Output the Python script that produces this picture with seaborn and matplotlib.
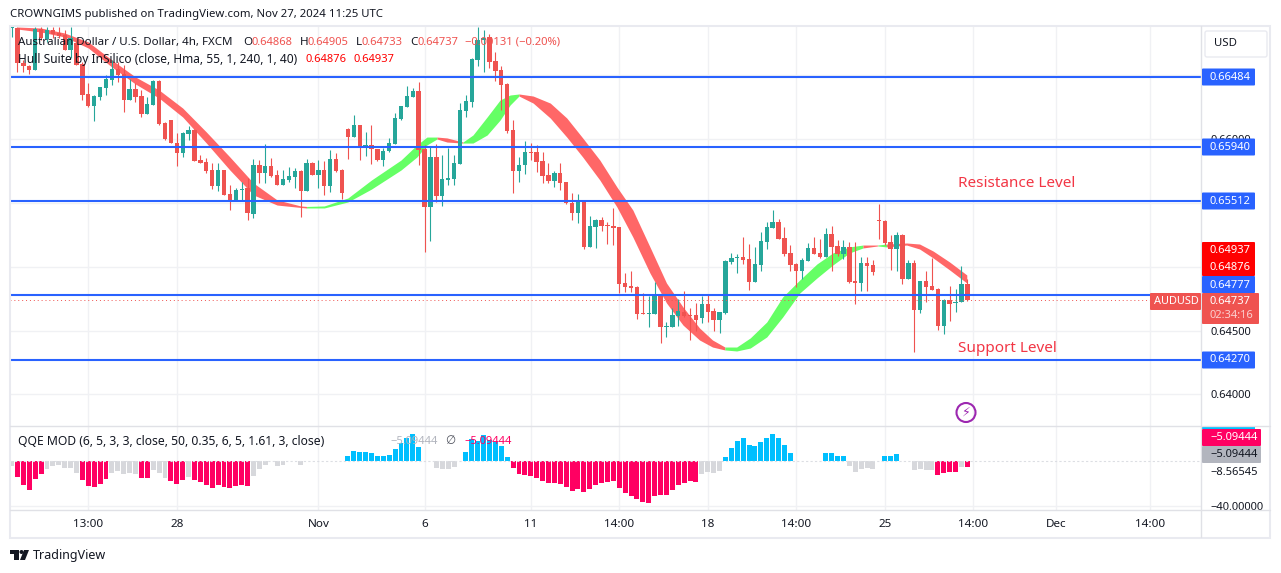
import numpy as np
import seaborn as sns
import matplotlib.pyplot as plt
from matplotlib.patches import Rectangle, FancyBboxPatch, Circle, Polygon

W, H = 1281, 573

# 4h candles, prices in 1e-5 units, first one is the cut off bar at the left edge
opens = [66867, 66867, 66593, 66570, 66538, 66859, 66781, 66851, 66828, 66812,
         66695, 66750, 66585, 66351, 66257, 66327, 66398, 66460, 66546, 66507,
         66304, 66390, 66335, 66194, 66265, 66452, 66124, 66147, 65968, 65890,
         66038, 66069, 65834, 65819, 65756, 65631, 65756, 65569, 65514, 65596,
         65615, 65412, 65795, 65733, 65787, 65717, 65639, 65678, 65701, 65748,
         65592, 65811, 65717, 65756, 65631, 65842, 65756, 66077, 66015, 66108,
         65936, 65952, 65921, 65834, 65905, 65960, 66155, 66249, 66327, 66374,
         65921, 65467, 65858, 65553, 65678, 65686, 65803, 66218, 66288, 66617,
         66773, 66797, 66609, 66538, 66429, 66069, 65748, 65795, 65897, 65897,
         65827, 65717, 65670, 65733, 65662, 65498, 65420, 65506, 65154, 65310,
         65365, 65326, 65318, 65310, 64872, 64849, 64841, 64638, 64630, 64630,
         64778, 64528, 64528, 64614, 64645, 64622, 64622, 64598, 64708, 64653,
         64583, 64637, 65036, 65068, 65076, 65060, 64880, 65013, 65193, 65302,
         65349, 65225, 65107, 65021, 64966, 65044, 65146, 65107, 65076, 65255,
         65162, 65099, 65154, 64888, 64872, 65029, 65013, 65365, 65357, 65193,
         65138, 65248, 64904, 65029, 64661, 64888, 64849, 64825, 64536, 64739,
         64716, 64724, 64868]
highs = [66875, 66875, 66617, 66578, 66875, 66875, 66875, 66875, 66875, 66851,
         66875, 66773, 66601, 66437, 66343, 66406, 66499, 66617, 66601, 66578,
         66468, 66437, 66382, 66327, 66460, 66460, 66132, 66147, 66046, 66054,
         66100, 66077, 65874, 65850, 65811, 65811, 65756, 65639, 65615, 65662,
         65694, 65842, 65834, 65959, 65850, 65756, 65756, 65780, 65772, 65756,
         65842, 65819, 65834, 65827, 65913, 65889, 65764, 66085, 66186, 66108,
         66054, 66108, 65921, 65928, 66007, 66202, 66257, 66413, 66398, 66445,
         65952, 65936, 65959, 65874, 65928, 65874, 66280, 66343, 66632, 66875,
         66851, 66820, 66679, 66570, 66437, 66147, 65858, 65983, 65968, 65952,
         65897, 65811, 65748, 65811, 65662, 65576, 65569, 65514, 65396, 65373,
         65388, 65349, 65459, 65310, 64950, 64966, 64849, 64794, 64770, 64880,
         64786, 64567, 64676, 64747, 64810, 64676, 64716, 64770, 64786, 64676,
         64645, 65052, 65107, 65099, 65232, 65177, 65154, 65271, 65349, 65443,
         65373, 65310, 65170, 65029, 65068, 65185, 65232, 65217, 65303, 65318,
         65209, 65209, 65193, 65193, 65076, 65076, 65052, 65490, 65365, 65248,
         65271, 65256, 65052, 65052, 64888, 64966, 65068, 64833, 64747, 64849,
         64825, 65005, 64905]
lows = [66797, 66523, 66523, 66507, 66538, 66773, 66757, 66789, 66789, 66695,
        66632, 66578, 66304, 66249, 66140, 66304, 66343, 66421, 66445, 66210,
        66304, 66288, 66171, 66194, 66265, 66108, 65991, 65968, 65788, 65858,
        65991, 65827, 65811, 65733, 65608, 65592, 65561, 65443, 65514, 65514,
        65365, 65381, 65654, 65654, 65701, 65639, 65639, 65662, 65615, 65388,
        65592, 65717, 65615, 65561, 65584, 65740, 65529, 65842, 66015, 65834,
        65866, 65803, 65827, 65788, 65897, 65960, 66147, 66249, 66327, 65795,
        65115, 65201, 65506, 65475, 65639, 65639, 65803, 66171, 66249, 66570,
        66523, 66554, 66452, 66225, 66046, 65577, 65662, 65725, 65834, 65740,
        65655, 65655, 65623, 65600, 65490, 65365, 65342, 65138, 65154, 65146,
        65279, 65178, 65170, 64794, 64802, 64802, 64590, 64630, 64528, 64630,
        64403, 64450, 64528, 64536, 64606, 64426, 64497, 64559, 64567, 64497,
        64481, 64630, 65021, 64950, 65021, 64817, 64880, 64966, 65138, 65302,
        65217, 65083, 64966, 64841, 64903, 65044, 65099, 65068, 65076, 64966,
        65083, 65060, 64872, 64708, 64810, 64810, 64935, 65217, 65170, 64974,
        64966, 64864, 64904, 64332, 64638, 64724, 64817, 64504, 64473, 64575,
        64645, 64724, 64733]
closes = [66875, 66593, 66570, 66538, 66859, 66789, 66851, 66820, 66804, 66695,
          66789, 66578, 66343, 66257, 66335, 66406, 66468, 66546, 66499, 66304,
          66390, 66327, 66194, 66272, 66452, 66116, 65999, 65968, 65890, 66046,
          66069, 65827, 65811, 65748, 65631, 65756, 65561, 65514, 65600, 65608,
          65420, 65795, 65733, 65787, 65709, 65639, 65686, 65709, 65748, 65592,
          65811, 65717, 65756, 65631, 65842, 65748, 65577, 66015, 66108, 65936,
          65952, 65921, 65834, 65905, 65968, 66163, 66257, 66335, 66374, 65913,
          65467, 65858, 65553, 65686, 65694, 65811, 66225, 66296, 66624, 66773,
          66789, 66601, 66531, 66421, 66061, 65748, 65795, 65897, 65889, 65819,
          65709, 65670, 65733, 65655, 65498, 65420, 65506, 65154, 65318, 65365,
          65318, 65318, 65303, 64864, 64841, 64833, 64630, 64630, 64638, 64778,
          64528, 64536, 64622, 64653, 64614, 64614, 64583, 64708, 64645, 64583,
          64645, 65044, 65068, 65076, 65052, 64880, 65021, 65201, 65310, 65349,
          65217, 65099, 65013, 64966, 65052, 65146, 65099, 65076, 65255, 65154,
          65099, 65154, 64880, 64872, 65029, 65005, 64958, 65357, 65185, 65138,
          65248, 64904, 65029, 64661, 64888, 64841, 64817, 64536, 64739, 64708,
          64724, 64864, 64737]

# QQE histogram, one value per candle
qqe = [-4.1, -13.9, -21.3, -25.8, -16, -11.6, -7.1, -4.7, -3.6, -6.2,
       -6.2, -10.4, -16.9, -22.2, -23.1, -20.4, -16, -10.7, -8.6, -11.6,
       -10.7, -11.6, -15.1, -15.1, -8, -10.4, -15.1, -17.8, -20.4, -16.9,
       -14.2, -16.9, -18.7, -21.3, -24, -21.3, -23.1, -24, -22.2, -21.3,
       -22.2, -13.3, -7.1, -3.6, 0, -4.1, -3.6, 0, 0, -3.6,
       0, 0, 0, 0, 0, 0, 0, 4.4, 8.9, 8,
       8, 7.1, 4.4, 4.4, 5.3, 10.7, 16, 20.4, 24, 12.4,
       0, 0, -6.2, -7.1, -7.1, -5.3, 0, 8, 19.6, 18,
       23, 19, 17, 13, 3.6, -6.2, -11.6, -12.4, -13.3, -15.1,
       -17.8, -19.6, -19.6, -20.4, -23.1, -26.7, -25, -27.6, -25, -21.3,
       -19.6, -18.7, -17.8, -24, -28.4, -31, -33.8, -36.4, -37.3, -31,
       -30.2, -30.2, -25.8, -21.3, -19.6, -17.8, -18.7, -11.6, -9.8, -10.7,
       -8.9, 3.6, 11.6, 17.8, 20.4, 14.2, 13.3, 16.9, 20.4, 24,
       20.4, 14.2, 7.1, 0, 0, 0, 0, 0, 7.1, 7.1,
       4.4, 4.4, -4.4, -9.8, -7.1, -6.2, -7.1, 0, 4.4, 4.4,
       6.2, 0, 0, -8, -7.1, -8, -8, -12.4, -10.7, -9.8,
       -9.8, -5.3, -5.3]
grey_bars = [-1, 5, 6, 7, 8, 9, 10, 16, 17, 18, 19, 20, 23, 24, 25, 29, 40, 41, 42, 44, 45, 48,
             71, 72, 73, 74, 116, 117, 118, 119, 141, 142, 143, 144, 145, 152, 153, 154, 155, 160]

# Hull Suite band, read at a few candles, one list per colour run
hull_colors = ['red', 'green', 'red', 'green', 'red', 'green', 'red', 'green', 'red']
hull_x = [[0, 4, 8, 12, 16, 20, 24, 28, 32, 36, 40, 44, 48, 49],
          [49, 52, 56, 60, 65, 67.7, 69.4, 71.1],
          [71.1, 72.8, 75.5],
          [75.5, 77.2, 79.6, 81.8, 83.5, 85],
          [85, 87.4, 90.3, 93.1, 95.8, 98.7, 101.6, 104.3, 107.2, 110, 112.8, 115.6, 117.8, 119.9],
          [119.9, 121.9, 124.2, 127, 129.7, 132.6, 135.5, 138.2, 141, 143.3],
          [143.3, 145.8],
          [145.8, 147.3],
          [147.3, 150.7, 152.9, 155.2, 158, 160.9]]
hull_top = [[66875, 66867, 66828, 66758, 66617, 66484, 66382, 66241, 66054, 65858, 65654, 65522, 65475, 65471],
            [65471, 65475, 65537, 65678, 65834, 65952, 66014, 66014],
            [66014, 66007, 65975],
            [65975, 66030, 66171, 66304, 66343, 66351],
            [66351, 66335, 66280, 66163, 66007, 65834, 65623, 65443, 65154, 64872, 64684, 64520, 64426, 64371],
            [64371, 64371, 64442, 64567, 64763, 64896, 65021, 65107, 65154, 65169],
            [65169, 65169],
            [65169, 65177],
            [65177, 65185, 65177, 65122, 65036, 64935]]
hull_bot = [[66859, 66836, 66797, 66711, 66562, 66429, 66319, 66171, 65968, 65756, 65561, 65482, 65463, 65459],
            [65459, 65459, 65506, 65607, 65756, 65858, 65952, 65999],
            [65999, 65975, 65967],
            [65967, 65967, 66030, 66147, 66265, 66335],
            [66335, 66280, 66163, 66014, 65858, 65678, 65467, 65232, 64950, 64716, 64543, 64426, 64371, 64348],
            [64348, 64340, 64363, 64450, 64606, 64794, 64911, 65013, 65107, 65146],
            [65146, 65162],
            [65162, 65154],
            [65154, 65169, 65138, 65068, 64974, 64872]]

levels = [0.66484, 0.65940, 0.65512, 0.64777, 0.64270]
last_price = 0.64737
grid_prices = [0.665, 0.66, 0.655, 0.65, 0.645, 0.64]
price_labels = ['', '0.66000', '', '', '0.64500', '0.64000']
tick_idx = [12, 27, 51, 69, 87, 102, 117, 132, 147, 162, 176, 192]
tick_names = ['13:00', '28', 'Nov', '6', '11', '14:00', '18', '14:00', '25', '14:00', 'Dec', '14:00']

sns.set_theme(style='white')
plt.rcParams['font.family'] = ['Noto Sans', 'DejaVu Sans']
TXT = '#131722'
GRID = '#f0f1f4'
BLUE = '#2962ff'
UP, DOWN = '#26a69a', '#ef5350'
NUM = 8.0


def px_axes(fig, x0, y0, x1, y1):
    return fig.add_axes([x0 / W, 1 - y1 / H, (x1 - x0) / W, (y1 - y0) / H])


fig = plt.figure(figsize=(W / 100, H / 100), dpi=100)
ax = px_axes(fig, 10, 26, 1201, 426)
ax2 = px_axes(fig, 10, 426, 1201, 510)

x = np.arange(-1, len(closes) - 1)
o, hi, lo, c = [np.array(a) / 1e5 for a in (opens, highs, lows, closes)]
up = c >= o

# candles
ax.vlines(x[up], lo[up], hi[up], color=UP, lw=0.8, zorder=3)
ax.vlines(x[~up], lo[~up], hi[~up], color=DOWN, lw=0.8, zorder=3)
sns.barplot(x=x[up], y=(c - o)[up], bottom=o[up], color=UP, saturation=1, width=0.74, native_scale=True,
            orient='x', errorbar=None, linewidth=0, zorder=3, ax=ax)
sns.barplot(x=x[~up], y=(o - c)[~up], bottom=c[~up], color=DOWN, saturation=1, width=0.74, native_scale=True,
            orient='x', errorbar=None, linewidth=0, zorder=3, ax=ax)

# hull band
band = {'red': '#ff5a5a', 'green': '#58ff58'}
for col, hx, t, b in zip(hull_colors, hull_x, hull_top, hull_bot):
    ax.fill_between(hx, np.array(t) / 1e5, np.array(b) / 1e5, color=band[col], alpha=0.92, lw=0, zorder=2)

for lev in levels:
    ax.axhline(lev, color=BLUE, lw=1.5, zorder=4)
ax.axhline(last_price, color=DOWN, lw=0.7, ls=(0, (1, 3)), zorder=4)

ax.set_xlim(-1.27, 200.6)
ax.set_ylim(0.63753, 0.66883)
ax.yaxis.tick_right()
ax.set_yticks(grid_prices, price_labels, color=TXT, fontsize=NUM)
ax.set_xticks(tick_idx, [''] * len(tick_idx))
ax.tick_params(length=0, pad=6.5)
ax.grid(True, color=GRID, lw=1)
ax.set_axisbelow(True)

# QQE panel
state = ['grey' if i in grey_bars else ('pink' if v < 0 else 'blue') for i, v in zip(x, qqe)]
sns.barplot(x=x, y=qqe, hue=state, palette={'grey': '#d7d8dc', 'pink': '#ff0062', 'blue': '#00bfff'},
            saturation=1, dodge=False, width=0.84, native_scale=True, orient='x', errorbar=None,
            linewidth=0, legend=False, zorder=3, ax=ax2)
ax2.axhline(0, color='#dcdee3', lw=0.8, ls=(0, (2, 2)), zorder=4)
ax2.axhline(-40, color=GRID, lw=1)
ax2.set_xlim(-1.27, 200.6)
ax2.set_ylim(-43.6, 31.1)
ax2.yaxis.tick_right()
ax2.set_yticks([-8.56545, -40], ['\u22128.56545', '\u221240.00000'], color=TXT, fontsize=NUM)
ax2.set_xticks(tick_idx, tick_names, color=TXT, fontsize=8.4)
ax2.tick_params(length=0)
ax2.tick_params(axis='y', pad=6.5)
ax2.tick_params(axis='x', pad=6.5)
ax2.grid(True, axis='x', color=GRID, lw=1)
ax2.set_axisbelow(True)
ax2.set_ylabel('')
for a in (ax, ax2):
    for s in a.spines.values():
        s.set_visible(False)
ax2.get_xticklabels()[2].set_fontweight('bold')

# everything around the plot, placed in figure pixels
ov = fig.add_axes([0, 0, 1, 1], zorder=10)
ov.set_xlim(0, W)
ov.set_ylim(H, 0)
ov.axis('off')
ov.patch.set_alpha(0)


def label(px, py, s, color=TXT, size=8.4, ha='left', **kw):
    ov.text(px, py, s, color=color, fontsize=size, ha=ha, va='center', **kw)


def tag(y0, y1, color, x0=1202, x1=1255):
    ov.add_patch(FancyBboxPatch((x0 + 1, y0 + 1), x1 - x0 - 2, y1 - y0 - 2, boxstyle='round,pad=1',
                                fc=color, ec='none', zorder=2))


ov.add_patch(Rectangle((1202, 511), 66, 26, fc='white', ec='none'))
ov.add_patch(Rectangle((9.5, 26), 1260.5, 511.5, fc='none', ec='#e9eaf0', lw=1.5))
ov.plot([10, 1270], [510, 510], color='#e0e1e6', lw=1)
ov.plot([10, 1270], [426, 426], color='#e0e1e6', lw=1)
ov.plot([1201.3, 1201.3], [26, 537], color='#e0e1e6', lw=1)

label(10, 14.5, 'CROWNGIMS published on TradingView.com, Nov 27, 2024 11:25 UTC', size=8.2)

# legend lines
label(18, 42.5, 'Australian Dollar / U.S. Dollar, 4h, FXCM', size=8.3)
for px, k, off, v in [(243, 'O', 9, '0.64868'), (300, 'H', 8, '0.64905'), (356, 'L', 6, '0.64733'), (410, 'C', 7, '0.64737')]:
    label(px, 42.5, k)
    label(px + off, 42.5, v, color=DOWN, size=NUM)
label(465, 42.5, '\u22120.00131 (\u22120.20%)', color=DOWN, size=8.1)
label(18, 59.5, 'Hull Suite by InSilico (close, Hma, 55, 1, 240, 1, 40)', size=8.6)
label(305, 59.5, '0.64876', color='#ff0000', size=NUM)
label(353, 59.5, '0.64937', color='#ff0000', size=NUM)
label(18, 441.5, 'QQE MOD (6, 5, 3, 3, close, 50, 0.35, 6, 5, 1.61, 3, close)', size=8.75)
label(390, 441.5, '\u22125.09444', color='#b2b5be', size=NUM)
label(445, 441.5, '\u2205', color='#50535e')
label(464, 441.5, '\u22125.09444', color='#ff0062', size=NUM)

# annotations
label(958, 183.5, 'Resistance Level', color='#f23645', size=11)
label(958, 348.5, 'Support Level', color='#f23645', size=11)
ov.add_patch(Circle((966, 412.5), 9.5, fc='none', ec='#9c27b0', lw=1.5))
label(966, 412.5, '\u26a1', color='#9c27b0', size=9, ha='center', family='DejaVu Sans')

# price scale tags
for y_mid, s in [(77, '0.66484'), (147, '0.65940'), (201, '0.65512'), (360, '0.64270')]:
    tag(y_mid - 8.5, y_mid + 8.5, BLUE)
    label(1210, y_mid, s, color='white', size=NUM)
tag(242, 276, '#ff0000')
label(1210, 250.5, '0.64937', color='white', size=NUM)
label(1210, 267.5, '0.64876', color='white', size=NUM)
tag(276, 293, BLUE)
label(1210, 285, '0.64777', color='white', size=NUM)
tag(293, 324, DOWN, x1=1259)
label(1210, 301.5, '0.64737', color='white', size=NUM)
label(1210, 315.5, '02:34:16', color='#fbd0cf', size=NUM)
tag(293, 310, DOWN, x0=1150, x1=1201)
label(1154, 301.5, 'AUDUSD', color='white', size=7.9)
ov.add_patch(FancyBboxPatch((1207, 33), 58, 22, boxstyle='round,pad=2', fc='white', ec='#e9eaf0', lw=1))
label(1214, 43.5, 'USD', size=8.2)

ov.add_patch(Rectangle((1202, 426), 53, 3, fc='#00bfff', ec='none'))
tag(429, 446, '#ff0062', x1=1261)
label(1210, 437.5, '\u22125.09444', color='white', size=NUM)
tag(446, 463, '#b2b5be', x1=1261)
label(1210, 454.5, '\u22125.09444', color=TXT, size=NUM)

# TradingView mark
ov.add_patch(Polygon([(10, 550), (19, 550), (19, 560), (14, 560), (14, 554), (10, 554)], fc=TXT, ec='none'))
ov.add_patch(Circle((21.5, 552), 2, fc=TXT, ec='none'))
ov.add_patch(Polygon([(29, 550), (25, 560), (20, 560), (24, 550)], fc=TXT, ec='none'))
label(33, 555.5, 'TradingView', size=9)

fig.savefig('out.png', dpi=100)
